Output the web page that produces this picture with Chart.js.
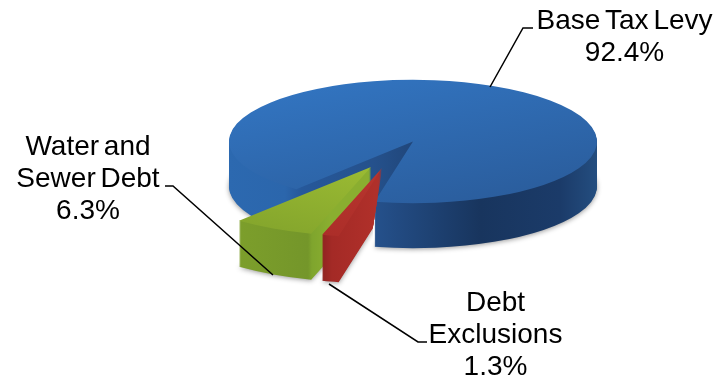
<!DOCTYPE html>
<html>
<head>
<meta charset="utf-8">
<title>Tax levy breakdown</title>
<script src="https://cdn.jsdelivr.net/npm/chart.js@4"></script>
<style>
    html, body { margin: 0; padding: 0; background: #fff; }
    canvas { display: block; }
</style>
</head>
<body>
<canvas id="levyPie" width="715" height="381"></canvas>
<script>
const categories = ['Base Tax Levy', 'Debt Exclusions', 'Water and Sewer Debt'];
const shareValues = [92.4, 1.3, 6.3];
const labelLines = [['Base Tax Levy'], ['Debt', 'Exclusions'], ['Water and', 'Sewer Debt']];

const tilt = 0.335;

// where each slice sits on the page and how it is shaded
const sliceLooks = [
    {
        x: 413, y: 141.5, radius: 184, depth: 45,
        top: [[300, 85, '#3274c0'], [520, 205, '#2a5c9b']],
        wall: [[228, '#2c69b0'], [285, '#2b66ac'], [302, '#26589a'], [373, '#25518c'], [480, '#18355e'], [560, '#1b3b69'], [598, '#244e80']]
    },
    {
        x: 382, y: 168, radius: 208, depth: 46,
        top: [[330, 235, '#ac2e29'], [380, 170, '#b8352e']],
        wall: [[320, '#8c2320'], [332, '#a42a26'], [375, '#b0302a']],
        // the blue cut face stays in front of this thin slice
        clip: [[300, 160], [382, 160], [382, 169], [373, 227], [373, 300], [300, 300]]
    },
    {
        x: 371, y: 167, radius: 208, depth: 46,
        top: [[250, 230, '#84a52c'], [370, 170, '#9aba33']],
        wall: [[240, '#7c9e2b'], [308, '#74962a'], [312, '#7fa52d'], [330, '#8aae30']]
    }
];

const labelSpots = [
    { x: 624.5, y: 29 },
    { x: 495.5, y: 311 },
    { x: 88, y: 155 }
];

const leaderLines = [
    [[490, 87], [523, 28], [533, 28]],
    [[329, 284], [418, 342], [427, 342]],
    [[273, 275], [173, 186], [165, 186]]
];

function drawSlice(ctx, arc, look) {
    const sx = look.radius / arc.outerRadius;
    const sy = sx * tilt;
    const toArcX = px => arc.x + (px - look.x) / sx;
    const toArcY = py => arc.y + (py - look.y) / sy;

    const wall = ctx.createLinearGradient(toArcX(look.wall[0][0]), 0, toArcX(look.wall[look.wall.length - 1][0]), 0);
    const span = look.wall[look.wall.length - 1][0] - look.wall[0][0];
    look.wall.forEach(s => wall.addColorStop((s[0] - look.wall[0][0]) / span, s[1]));

    const a = look.top[0];
    const b = look.top[1];
    const top = ctx.createLinearGradient(toArcX(a[0]), toArcY(a[1]), toArcX(b[0]), toArcY(b[1]));
    top.addColorStop(0, a[2]);
    top.addColorStop(1, b[2]);

    const baseOptions = arc.options;
    const paint = (fill, drop) => {
        arc.options = Object.assign({}, baseOptions, { backgroundColor: fill });
        ctx.save();
        ctx.translate(look.x, look.y + drop);
        ctx.scale(sx, sy);
        ctx.translate(-arc.x, -arc.y);
        arc.draw(ctx);
        ctx.restore();
    };

    ctx.save();
    if (look.clip) {
        ctx.beginPath();
        look.clip.forEach((p, i) => i ? ctx.lineTo(p[0], p[1]) : ctx.moveTo(p[0], p[1]));
        ctx.closePath();
        ctx.clip();
    }

    // soft shadow under the solid, then the extruded sides, then the lid
    ctx.save();
    ctx.shadowColor = 'rgba(0, 0, 0, 0.4)';
    ctx.shadowBlur = 5;
    ctx.shadowOffsetY = 1;
    paint(wall, look.depth);
    ctx.restore();
    for (let d = look.depth - 1; d > 0; d--) {
        paint(wall, d);
    }
    paint(top, 0);
    ctx.restore();
    arc.options = baseOptions;
}

const solidPie = {
    id: 'solidPie',
    beforeDatasetsDraw(chart) {
        const arcs = chart.getDatasetMeta(0).data;
        [0, 2, 1].forEach(i => drawSlice(chart.ctx, arcs[i], sliceLooks[i]));
        return false;
    },
    afterDraw(chart) {
        const ctx = chart.ctx;
        ctx.save();
        ctx.strokeStyle = '#000';
        ctx.lineWidth = 1.5;
        leaderLines.forEach(points => {
            ctx.beginPath();
            points.forEach((p, i) => i ? ctx.lineTo(p[0], p[1]) : ctx.moveTo(p[0], p[1]));
            ctx.stroke();
        });

        ctx.fillStyle = '#000';
        ctx.font = '28px "Liberation Sans", Arial, sans-serif';
        ctx.textAlign = 'center';
        ctx.textBaseline = 'alphabetic';
        ctx.wordSpacing = '-3px';
        categories.forEach((name, i) => {
            const lines = labelLines[i].concat(shareValues[i].toFixed(1) + '%');
            lines.forEach((line, n) => {
                ctx.fillText(line, labelSpots[i].x, labelSpots[i].y + n * 32.2);
            });
        });
        ctx.restore();
    }
};

new Chart(document.getElementById('levyPie').getContext('2d'), {
    type: 'pie',
    data: {
        labels: categories,
        datasets: [{
            data: shareValues,
            borderWidth: 0
        }]
    },
    options: {
        responsive: false,
        animation: false,
        devicePixelRatio: 1,
        rotation: 219.4,
        plugins: {
            legend: { display: false },
            tooltip: { enabled: false }
        }
    },
    plugins: [solidPie]
});
</script>
</body>
</html>
